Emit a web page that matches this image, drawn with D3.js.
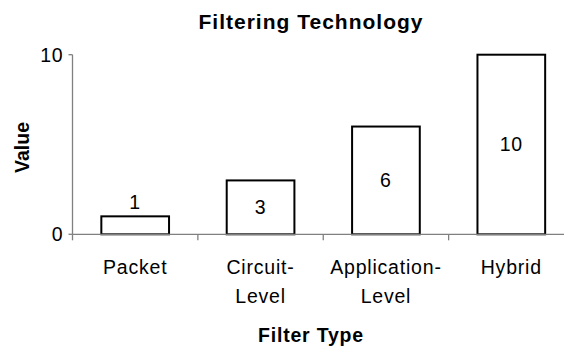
<!DOCTYPE html>
<html>
<head>
<meta charset="utf-8">
<script src="https://cdn.jsdelivr.net/npm/d3@7"></script>
<style>
  body { margin: 0; background: #fff; }
  svg text { font-family: "Liberation Sans", Arial, sans-serif; fill: #000; }
</style>
</head>
<body>
<div id="chart"></div>
<script>
// chart data
var categories = [["Packet"], ["Circuit-", "Level"], ["Application-", "Level"], ["Hybrid"]]
var values = [1, 3, 6, 10]
var yTicks = [0, 10]

var width = 564
var height = 354
var margin = { top: 55, right: -10, bottom: 120, left: 72.5 }

var svg = d3.select("#chart")
  .append("svg")
  .attr("width", width)
  .attr("height", height)

var x = d3.scaleBand()
  .domain(d3.range(values.length))
  .range([margin.left, width - margin.right])
  .paddingInner(0.46)
  .paddingOuter(0.23)

var y = d3.scaleLinear()
  .domain([0, 10])
  .range([height - margin.bottom + 0.3, margin.top - 0.3])

// title
svg.append("text")
  .attr("x", 311)
  .attr("y", 29)
  .attr("text-anchor", "middle")
  .style("font-size", "21px")
  .style("font-weight", "bold")
  .style("letter-spacing", "1px")
  .text("Filtering Technology")

// bars
svg.selectAll("rect.bar")
  .data(values)
  .enter()
  .append("rect")
  .attr("class", "bar")
  .attr("x", function (d, i) { return x(i) })
  .attr("width", x.bandwidth())
  .attr("y", function (d) { return y(d) })
  .attr("height", function (d) { return y(0) - y(d) })
  .style("fill", "#fff")
  .style("stroke", "#000")
  .style("stroke-width", 2)

// value labels
svg.selectAll("text.val")
  .data(values)
  .enter()
  .append("text")
  .attr("class", "val")
  .attr("x", function (d, i) { return x(i) + x.bandwidth() / 2 })
  .attr("y", function (d) {
    var h = y(0) - y(d)
    return h < 30 ? y(d) - 14 : (y(d) + y(0)) / 2
  })
  .attr("dy", "0.35em")
  .attr("text-anchor", "middle")
  .style("font-size", "19.5px")
  .style("letter-spacing", "0.8px")
  .text(function (d) { return d })

// x axis
var step = x.step()
var xAxisG = svg.append("g")
xAxisG.append("line")
  .attr("x1", margin.left)
  .attr("x2", width + 20)
  .attr("y1", y(0))
  .attr("y2", y(0))
  .style("stroke", "#808080")
  .style("stroke-width", 1.3)
xAxisG.selectAll("line.tick")
  .data(d3.range(values.length + 1))
  .enter()
  .append("line")
  .attr("class", "tick")
  .attr("x1", function (i) { return margin.left + i * step })
  .attr("x2", function (i) { return margin.left + i * step })
  .attr("y1", y(0))
  .attr("y2", y(0) + 6)
  .style("stroke", "#808080")
  .style("stroke-width", 1.3)

svg.selectAll("text.cat")
  .data(categories)
  .enter()
  .append("text")
  .attr("class", "cat")
  .attr("x", function (d, i) { return x(i) + x.bandwidth() / 2 })
  .attr("y", 274)
  .attr("text-anchor", "middle")
  .style("font-size", "19.5px")
  .style("letter-spacing", "0.8px")
  .each(function (d) {
    var t = d3.select(this)
    d.forEach(function (line, k) {
      t.append("tspan")
        .attr("x", t.attr("x"))
        .attr("dy", k === 0 ? 0 : 29)
        .text(line)
    })
  })

// y axis
var yAxisG = svg.append("g")
yAxisG.append("line")
  .attr("x1", margin.left)
  .attr("x2", margin.left)
  .attr("y1", y(0))
  .attr("y2", y(10))
  .style("stroke", "#808080")
  .style("stroke-width", 1.3)
yAxisG.selectAll("line.tick")
  .data(yTicks)
  .enter()
  .append("line")
  .attr("class", "tick")
  .attr("x1", margin.left - 4)
  .attr("x2", margin.left)
  .attr("y1", function (d) { return y(d) })
  .attr("y2", function (d) { return y(d) })
  .style("stroke", "#808080")
  .style("stroke-width", 1.3)
yAxisG.selectAll("text")
  .data(yTicks)
  .enter()
  .append("text")
  .attr("x", margin.left - 9)
  .attr("y", function (d) { return y(d) })
  .attr("dy", "0.35em")
  .attr("text-anchor", "end")
  .style("font-size", "19.5px")
  .style("letter-spacing", "0.8px")
  .text(function (d) { return d })

// axis titles
svg.append("text")
  .attr("x", 311)
  .attr("y", 342)
  .attr("text-anchor", "middle")
  .style("font-size", "19.5px")
  .style("font-weight", "bold")
  .style("letter-spacing", "0.8px")
  .text("Filter Type")

svg.append("text")
  .attr("transform", "translate(29,147.5) rotate(-90)")
  .attr("text-anchor", "middle")
  .style("font-size", "19.5px")
  .style("font-weight", "bold")
  .text("Value")
</script>
</body>
</html>
